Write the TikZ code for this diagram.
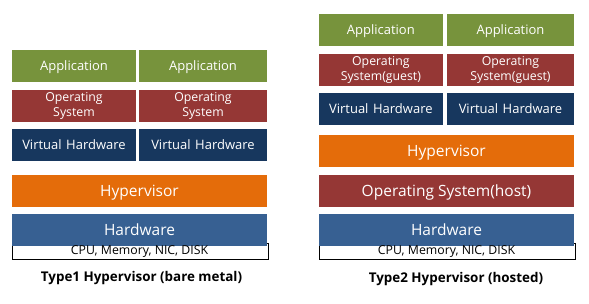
\documentclass[tikz,border=0pt]{standalone}
\usepackage{fontspec}
\setmainfont{Open Sans}
\definecolor{appgreen}{HTML}{77933C}
\definecolor{osred}{HTML}{953735}
\definecolor{vhnavy}{HTML}{17375E}
\definecolor{hvorange}{HTML}{E46C0A}
\definecolor{hwblue}{HTML}{376092}
\begin{document}
\begin{tikzpicture}[x=1pt,y=-1pt,
  layer/.style={anchor=north west, inner sep=0pt, outer sep=0pt, minimum height=32pt,
    text=white, align=center},
  small/.style={layer, text height=9.3pt, text depth=0pt, font=\fontsize{13}{15}\selectfont},
  twoline/.style={layer, font=\fontsize{12.3}{14.5}\selectfont},
  large/.style={layer, text height=11.1pt, text depth=0pt, font=\fontsize{15.5}{18}\selectfont},
  half/.style={minimum width=124pt},
  halfb/.style={minimum width=127pt},
  full/.style={minimum width=255pt},
  appbox/.style={small, fill=appgreen},
  osbox/.style={twoline, fill=osred},
  vhbox/.style={small, fill=vhnavy},
  hvbox/.style={large, fill=hvorange},
  hostbox/.style={large, fill=osred},
  hwbox/.style={large, fill=hwblue},
  cpubox/.style={draw=black, line width=0.8pt, fill=white, inner sep=0pt},
  cputext/.style={font=\fontsize{12.3}{14}\selectfont, inner sep=0pt},
  caption/.style={font=\bfseries\fontsize{13.4}{16}\selectfont, inner sep=0pt}]
\useasboundingbox (0,0) rectangle (589,303);

% Type 1: hypervisor on bare metal
\node[appbox, half]  (a1) at (12,50)  {Application};
\node[appbox, minimum width=128pt] (a2) at (139,50) {Application};
\node[osbox, half]   (o1) at (12,90)  {Operating\\System};
\node[osbox, minimum width=128pt] (o2) at (139,90) {Operating\\System};
\node[vhbox, half]   (v1) at (12,129) {Virtual\hspace{0.35em}Hardware};
\node[vhbox, minimum width=128pt] (v2) at (139,129) {Virtual\hspace{0.35em}Hardware};
\node[hvbox, full]   (h1) at (12,175) {Hypervisor};
\node[cpubox, anchor=north west, minimum width=255.5pt, minimum height=16.3pt] (c1) at (12,243) {};
\node[hwbox, full]   (w1) at (12,214) {Hardware};
\node[cputext] (ct1) at (139.5,251.5) {CPU, Memory, NIC, DISK};
\node[caption] (t1) at (141.5,278) {Type1 Hypervisor (bare metal)};

% Type 2: hypervisor hosted on an operating system
\node[appbox, minimum width=123.7pt] (a3) at (319,14)  {Application};
\node[appbox, halfb] (a4) at (447,14)  {Application};
\node[osbox, minimum width=123.7pt] (o3) at (319,54)  {Operating\\System(guest)};
\node[osbox, halfb]  (o4) at (447,54)  {Operating\\System(guest)};
\node[vhbox, minimum width=123.7pt] (v3) at (319,93)  {Virtual\hspace{0.35em}Hardware};
\node[vhbox, halfb]  (v4) at (447,93)  {Virtual\hspace{0.35em}Hardware};
\node[hvbox, full]   (h2) at (319,135) {Hypervisor};
\node[hostbox, full] (s2) at (319,175) {Operating System(host)};
\node[cpubox, anchor=north west, minimum width=255.5pt, minimum height=16.3pt] (c2) at (319,243) {};
\node[hwbox, full]   (w2) at (319,214) {Hardware};
\node[cputext] (ct2) at (446.5,251.5) {CPU, Memory, NIC, DISK};
\node[caption] (t2) at (456,279) {Type2 Hypervisor (hosted)};
\end{tikzpicture}
\end{document}
